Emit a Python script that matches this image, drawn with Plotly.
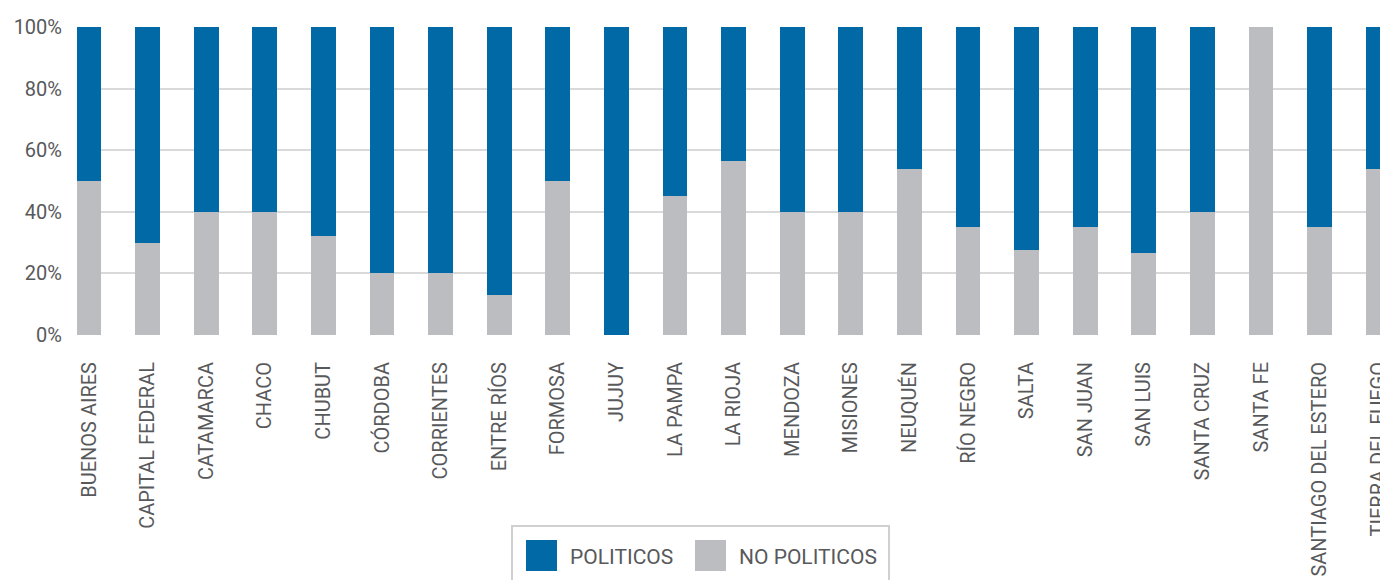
import plotly.graph_objects as go

provinces = ["BUENOS AIRES", "CAPITAL FEDERAL", "CATAMARCA", "CHACO", "CHUBUT", "CÓRDOBA",
             "CORRIENTES", "ENTRE RÍOS", "FORMOSA", "JUJUY", "LA PAMPA", "LA RIOJA",
             "MENDOZA", "MISIONES", "NEUQUÉN", "RÍO NEGRO", "SALTA", "SAN JUAN",
             "SAN LUIS", "SANTA CRUZ", "SANTA FE", "SANTIAGO DEL ESTERO", "TIERRA DEL FUEGO"]
no_politicos = [50, 30, 40, 40, 32, 20, 20, 13, 50, 0, 45, 56.5, 40, 40, 54, 35, 27.5, 35, 26.5, 40, 100, 35, 54]
politicos = [100 - v for v in no_politicos]
y_ticks = [0, 20, 40, 60, 80, 100]
y_tick_labels = ["0%", "20%", "40%", "60%", "80%", "100%"]

BLUE = "#0069a6"
GRAY = "#bcbdc0"
TEXT = "#58595b"

fig = go.Figure()
fig.add_trace(go.Bar(x=provinces, y=no_politicos, name="NO POLITICOS", marker_color=GRAY,
                     marker_line_width=0, showlegend=False))
fig.add_trace(go.Bar(x=provinces, y=politicos, name="POLITICOS", marker_color=BLUE,
                     marker_line_width=0, showlegend=False))

fig.update_layout(
    width=1380, height=580,
    barmode="stack", bargap=0.575,
    plot_bgcolor="white", paper_bgcolor="white",
    margin=dict(l=77, r=0, t=27, b=245),
    showlegend=False,
)
fig.update_xaxes(
    range=[-0.205, 22.03], tickangle=-90, showgrid=False, ticks="", showline=False,
    tickfont=dict(family="Roboto", size=20, color=TEXT),
    ticklabelstandoff=22, automargin=False,
)
fig.update_yaxes(
    range=[0, 100], tickvals=y_ticks, ticktext=y_tick_labels,
    showgrid=True, gridcolor="#d9d9d9", gridwidth=2, zeroline=False, showline=False,
    tickfont=dict(family="Roboto", size=20, color=TEXT),
    ticklabelstandoff=14, automargin=False,
)

# legend box drawn in paper coordinates
legend_items = [("POLITICOS", BLUE), ("NO POLITICOS", GRAY)]
px_w, px_h = 1380 - 77, 580 - 27 - 245
def px(x): return (x - 77) / px_w
def py(y): return (335 - y) / px_h

fig.add_shape(type="rect", xref="paper", yref="paper", x0=px(512), x1=px(889), y0=py(600), y1=py(526),
              line=dict(color="#d0d0d0", width=2), fillcolor="white", layer="above")
sq_x = [526, 695]
txt_x = [568, 737]
for (label, color), sx, tx in zip(legend_items, sq_x, txt_x):
    fig.add_shape(type="rect", xref="paper", yref="paper", x0=px(sx), x1=px(sx + 31),
                  y0=py(571), y1=py(540), line_width=0, fillcolor=color, layer="above")
    fig.add_annotation(text=label, xref="paper", yref="paper", x=px(tx), y=py(556.5),
                       xanchor="left", yanchor="middle", showarrow=False,
                       font=dict(family="Roboto", size=21, color=TEXT))

fig.write_html("out.html")
